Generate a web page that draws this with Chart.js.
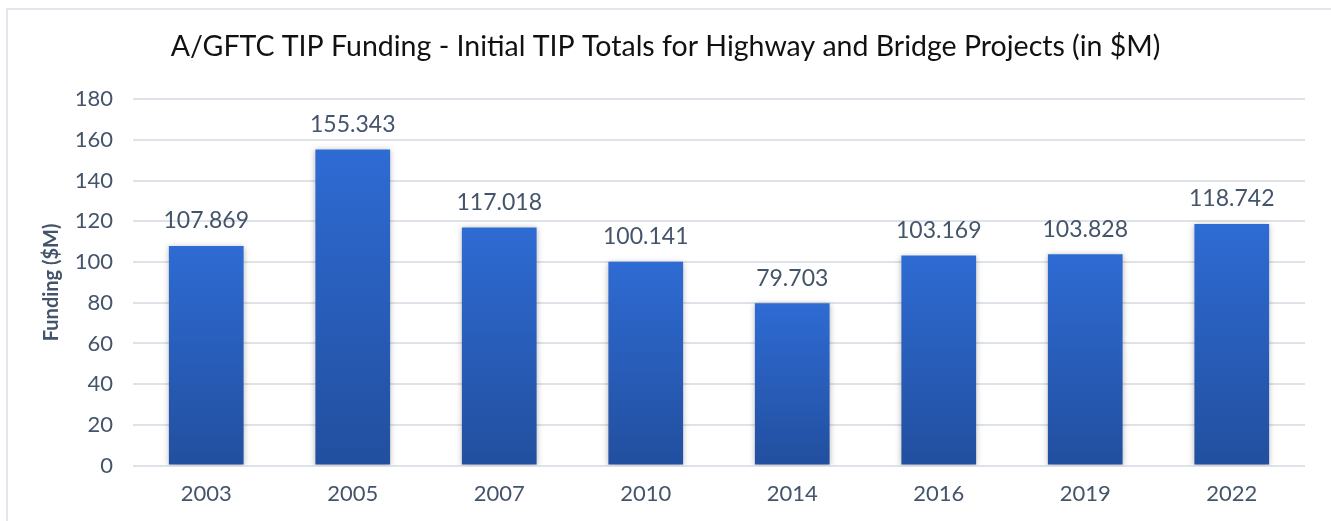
<!DOCTYPE html>
<html>
<head>
<meta charset="UTF-8">
<title>A/GFTC TIP Funding</title>
<script src="https://cdn.jsdelivr.net/npm/chart.js@4.4.1/dist/chart.umd.min.js"></script>
<style>
  html, body { margin: 0; padding: 0; background: #fff; overflow: hidden; }
  #frame {
    position: absolute; left: 6px; top: 8px; width: 1400px; height: 600px;
    border-left: 2px solid #e3e7ed; border-top: 2px solid #e3e7ed;
  }
  #wrap { position: absolute; left: 0; top: 0; width: 1331px; height: 521px; }
</style>
</head>
<body>
<div id="frame"></div>
<div id="wrap"><canvas id="fundingChart"></canvas></div>

<script>
// TIP years and initial totals for highway and bridge projects ($M)
var years = ['2003', '2005', '2007', '2010', '2014', '2016', '2019', '2022'];
var funding = [107.869, 155.343, 117.018, 100.141, 79.703, 103.169, 103.828, 118.742];
var yTicks = [0, 20, 40, 60, 80, 100, 120, 140, 160, 180];

var textColor = '#44546a';
var gridColor = '#dfe3e9';
var fontFamily = 'Lato, "Open Sans", sans-serif';

// vertical gradient for each bar, from its top down to the zero line
function barFill(context) {
  var chart = context.chart;
  if (!chart.chartArea || context.dataIndex === undefined) return '#2a5fbd';
  var y = chart.scales.y;
  var top = y.getPixelForValue(context.raw);
  var bottom = y.getPixelForValue(0);
  var g = chart.ctx.createLinearGradient(0, top, 0, bottom);
  g.addColorStop(0, '#2e6bd3');
  g.addColorStop(1, '#224f9f');
  return g;
}

// soft drop shadow behind the bars
var barShadow = {
  id: 'barShadow',
  beforeDatasetsDraw: function (chart) {
    var ctx = chart.ctx;
    ctx.save();
    ctx.shadowColor = 'rgba(0,0,0,0.28)';
    ctx.shadowBlur = 6;
    ctx.shadowOffsetX = 0;
    ctx.shadowOffsetY = 1;
  },
  afterDatasetsDraw: function (chart) {
    chart.ctx.restore();
  }
};

// value printed above each bar
var valueLabels = {
  id: 'valueLabels',
  afterDatasetsDraw: function (chart) {
    var ctx = chart.ctx;
    var meta = chart.getDatasetMeta(0);
    ctx.save();
    ctx.font = '23px ' + fontFamily;
    ctx.fillStyle = textColor;
    ctx.textAlign = 'center';
    ctx.textBaseline = 'middle';
    meta.data.forEach(function (bar, i) {
      ctx.fillText(funding[i].toFixed(3), bar.x, bar.y - 25);
    });
    ctx.restore();
  }
};

var ctx = document.getElementById('fundingChart').getContext('2d');
var fundingChart = new Chart(ctx, {
  type: 'bar',
  data: {
    labels: years,
    datasets: [{
      label: 'Funding ($M)',
      data: funding,
      backgroundColor: barFill,
      borderWidth: 0,
      categoryPercentage: 1,
      barPercentage: 0.51
    }]
  },
  options: {
    responsive: true,
    maintainAspectRatio: false,
    animation: false,
    layout: { padding: { left: 0, right: 0, top: 0, bottom: 7 } },
    plugins: {
      legend: { display: false },
      tooltip: { enabled: false },
      title: {
        display: true,
        text: 'A/GFTC TIP Funding - Initial TIP Totals for Highway and Bridge Projects (in $M)',
        color: '#111111',
        font: { family: fontFamily, size: 28.5, weight: 'normal' },
        padding: { top: 30, bottom: 35 }
      }
    },
    scales: {
      x: {
        grid: { display: false },
        border: { display: false },
        ticks: {
          color: textColor,
          font: { family: fontFamily, size: 22 },
          padding: 7
        }
      },
      y: {
        min: 0,
        max: 180,
        afterBuildTicks: function (axis) {
          axis.ticks = yTicks.map(function (v) { return { value: v }; });
        },
        afterFit: function (axis) { axis.width = 133; },
        grid: { color: gridColor, lineWidth: 2, drawTicks: false },
        border: { display: false },
        ticks: {
          color: textColor,
          font: { family: fontFamily, size: 22 },
          padding: 20
        },
        title: {
          display: true,
          text: 'Funding ($M)',
          color: textColor,
          font: { family: fontFamily, size: 20, weight: 'bold' },
          padding: { top: 40, bottom: 20 }
        }
      },
      // empty right-hand axis, only reserves the margin after the plot
      yRight: {
        position: 'right',
        min: 0,
        max: 180,
        display: true,
        grid: { display: false },
        border: { display: false },
        ticks: { display: false },
        afterFit: function (axis) { axis.width = 26; }
      }
    }
  },
  plugins: [barShadow, valueLabels]
});
</script>
</body>
</html>
